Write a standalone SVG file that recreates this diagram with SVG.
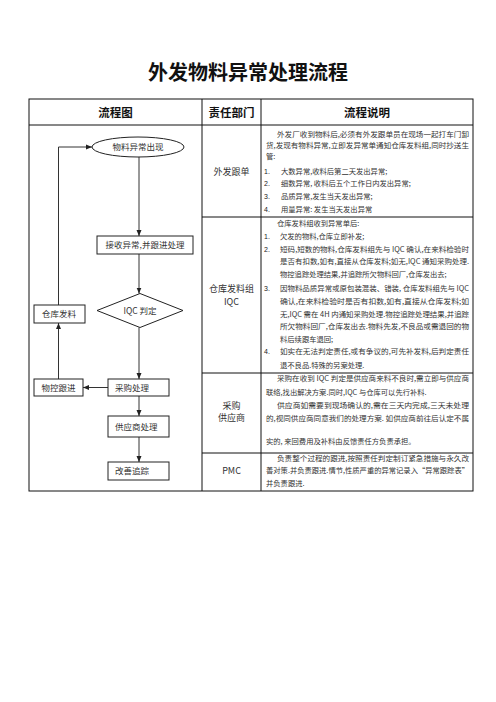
<svg xmlns="http://www.w3.org/2000/svg" width="496" height="702" viewBox="0 0 496 702">
<defs>
<marker id="arr" markerWidth="6" markerHeight="6" refX="6" refY="3" orient="auto" markerUnits="userSpaceOnUse">
<path d="M0,0.5 L6,3 L0,5.5 z" fill="#222"/>
</marker>
<style>
text{font-family:"Noto Sans CJK SC","Liberation Sans",sans-serif;fill:#222}
.title{font-size:20px;font-weight:bold;fill:#111}
.hd{font-size:11.5px;font-weight:bold;fill:#111}
.dept{font-size:9px;fill:#333}
.d{font-size:7.3px;fill:#333}
.n{font-size:7px;fill:#222;font-family:"Liberation Sans","Noto Sans CJK SC",sans-serif}
.node{font-size:8.5px;fill:#333}
.box{fill:#fff;stroke:#222;stroke-width:1}
.cn{fill:none;stroke:#333;stroke-width:1}
.tb{fill:none;stroke:#111;stroke-width:1}
</style>
</defs>
<rect width="496" height="702" fill="#fff"/>
<text class="title" x="248" y="80" text-anchor="middle">外发物料异常处理流程</text>

<g id="table">
<rect class="tb" x="29" y="99" width="444" height="392"/>
<line class="tb" x1="29" y1="125" x2="473" y2="125"/>
<line class="tb" x1="202" y1="99" x2="202" y2="491"/>
<line class="tb" x1="261" y1="99" x2="261" y2="491"/>
<line class="tb" x1="202" y1="217" x2="473" y2="217"/>
<line class="tb" x1="202" y1="373" x2="473" y2="373"/>
<line class="tb" x1="202" y1="453" x2="473" y2="453"/>
<text class="hd" x="115.5" y="116.5" text-anchor="middle">流程图</text>
<text class="hd" x="231.5" y="116.5" text-anchor="middle">责任部门</text>
<text class="hd" x="367" y="116.5" text-anchor="middle">流程说明</text>
</g>

<g id="connectors">
<line class="cn" x1="139" y1="157" x2="139" y2="236" marker-end="url(#arr)"/>
<line class="cn" x1="139" y1="254" x2="139" y2="293.5" marker-end="url(#arr)"/>
<line class="cn" x1="139" y1="327.5" x2="139" y2="379" marker-end="url(#arr)"/>
<line class="cn" x1="108" y1="387.5" x2="83" y2="387.5" marker-end="url(#arr)"/>
<line class="cn" x1="58.5" y1="379" x2="58.5" y2="323" marker-end="url(#arr)"/>
<polyline class="cn" points="58.5,305 58.5,147 92,147" marker-end="url(#arr)"/>
<line class="cn" x1="139" y1="396" x2="139" y2="416" marker-end="url(#arr)"/>
<line class="cn" x1="139" y1="437" x2="139" y2="462" marker-end="url(#arr)"/>
</g>

<g id="n-start">
<ellipse class="box" cx="138" cy="147" rx="46" ry="10"/>
<text class="node" x="138" y="150" text-anchor="middle">物料异常出现</text>
</g>
<g id="n-receive">
<rect class="box" x="97" y="236" width="96" height="18"/>
<text class="node" x="145" y="248" text-anchor="middle">接收异常,并跟进处理</text>
</g>
<g id="n-iqc">
<polygon class="box" points="97,310.5 140,293.5 183,310.5 140,327.5"/>
<text class="node" x="140" y="313.5" text-anchor="middle">IQC 判定</text>
</g>
<g id="n-warehouse">
<rect class="box" x="34" y="305" width="51" height="18"/>
<text class="node" x="59" y="317" text-anchor="middle">仓库发料</text>
</g>
<g id="n-purchase">
<rect class="box" x="108" y="379" width="61" height="17"/>
<text class="node" x="115" y="390.5">采购处理</text>
</g>
<g id="n-control">
<rect class="box" x="34" y="379" width="49" height="17"/>
<text class="node" x="58.5" y="390.5" text-anchor="middle">物控跟进</text>
</g>
<g id="n-supplier">
<rect class="box" x="108" y="416" width="61" height="21"/>
<text class="node" x="115" y="429.5">供应商处理</text>
</g>
<g id="n-improve">
<rect class="box" x="108" y="462" width="61" height="18"/>
<text class="node" x="115" y="474">改善追踪</text>
</g>

<g id="dept">
<text class="dept" x="231.5" y="175" text-anchor="middle">外发跟单</text>
<text class="dept" x="231.5" y="292" text-anchor="middle">仓库发料组</text>
<text class="dept" x="231.5" y="305" text-anchor="middle">IQC</text>
<text class="dept" x="231.5" y="409" text-anchor="middle">采购</text>
<text class="dept" x="231.5" y="421" text-anchor="middle">供应商</text>
<text class="dept" x="231.5" y="474" text-anchor="middle">PMC</text>
</g>

<g id="desc1">
<text class="d" x="277" y="136.6" textLength="192" lengthAdjust="spacingAndGlyphs">外发厂收到物料后,必须有外发跟单员在现场一起打车门卸</text>
<text class="d" x="266" y="147.6" textLength="203" lengthAdjust="spacingAndGlyphs">货,发现有物料异常,立即发异常单通知仓库发料组,同时抄送生</text>
<text class="d" x="266" y="159.3">管:</text>
<text class="n" x="264" y="174.3">1.</text><text class="d" x="281" y="174.3">大数异常,收料后第二天发出异常;</text>
<text class="n" x="264" y="186">2.</text><text class="d" x="281" y="186">细数异常, 收料后五个工作日内发出异常;</text>
<text class="n" x="264" y="199.3">3.</text><text class="d" x="281" y="199.3">品质异常,发生当天发出异常;</text>
<text class="n" x="264" y="211.9">4.</text><text class="d" x="281" y="211.9">用量异常: 发生当天发出异常</text>
</g>

<g id="desc2">
<text class="d" x="277" y="226">仓库发料组收到异常单后:</text>
<text class="n" x="264" y="239.2">1.</text><text class="d" x="280" y="239.2">欠发的物料,仓库立即补发;</text>
<text class="n" x="264" y="251.9">2.</text><text class="d" x="280" y="251.9" textLength="189" lengthAdjust="spacingAndGlyphs">短码,短数的物料,仓库发料组先与 IQC 确认,在来料检验时</text>
<text class="d" x="280" y="264.4" textLength="189" lengthAdjust="spacingAndGlyphs">是否有扣数,如有,直接从仓库发料;如无,IQC 通知采购处理.</text>
<text class="d" x="280" y="276.9">物控追踪处理结果,并追踪所欠物料回厂,仓库发出去;</text>
<text class="n" x="264" y="290.9">3.</text><text class="d" x="280" y="290.9" textLength="189" lengthAdjust="spacingAndGlyphs">因物料品质异常或原包装混装、错装, 仓库发料组先与 IQC</text>
<text class="d" x="280" y="303.6" textLength="189" lengthAdjust="spacingAndGlyphs">确认,在来料检验时是否有扣数,如有,直接从仓库发料;如</text>
<text class="d" x="280" y="316.6" textLength="189" lengthAdjust="spacingAndGlyphs">无,IQC 需在 4H 内通知采购处理.物控追踪处理结果,并追踪</text>
<text class="d" x="280" y="329.3" textLength="189" lengthAdjust="spacingAndGlyphs">所欠物料回厂,仓库发出去.物料先发,不良品或需退回的物</text>
<text class="d" x="280" y="341.9">料后续跟车退回;</text>
<text class="n" x="264" y="354.3">4.</text><text class="d" x="280" y="354.3" textLength="189" lengthAdjust="spacingAndGlyphs">如实在无法判定责任,或有争议的,可先补发料,后判定责任</text>
<text class="d" x="280" y="367.6">退不良品.特殊的另案处理.</text>
</g>

<g id="desc3">
<text class="d" x="277" y="380.6" textLength="192" lengthAdjust="spacingAndGlyphs">采购在收到 IQC 判定是供应商来料不良时,需立即与供应商</text>
<text class="d" x="266" y="394.6">联络,找出解决方案.同时,IQC 与仓库可以先行补料.</text>
<text class="d" x="277" y="407.6" textLength="192" lengthAdjust="spacingAndGlyphs">供应商如需要到现场确认的,需在三天内完成,三天未处理</text>
<text class="d" x="266" y="420.6" textLength="203" lengthAdjust="spacingAndGlyphs">的,视同供应商同意我们的处理方案. 如供应商前往后认定不属</text>
<text class="d" x="266" y="443.6">实的, 来回费用及补料由反馈责任方负责承担。</text>
</g>

<g id="desc4">
<text class="d" x="277" y="460.6" textLength="192" lengthAdjust="spacingAndGlyphs">负责整个过程的跟进,按照责任判定制订紧急措施与永久改</text>
<text class="d" x="266" y="473.1" textLength="203" lengthAdjust="spacingAndGlyphs">善对策.并负责跟进.情节,性质严重的异常记录入“异常跟踪表”</text>
<text class="d" x="266" y="485.6">并负责跟进.</text>
</g>
</svg>
